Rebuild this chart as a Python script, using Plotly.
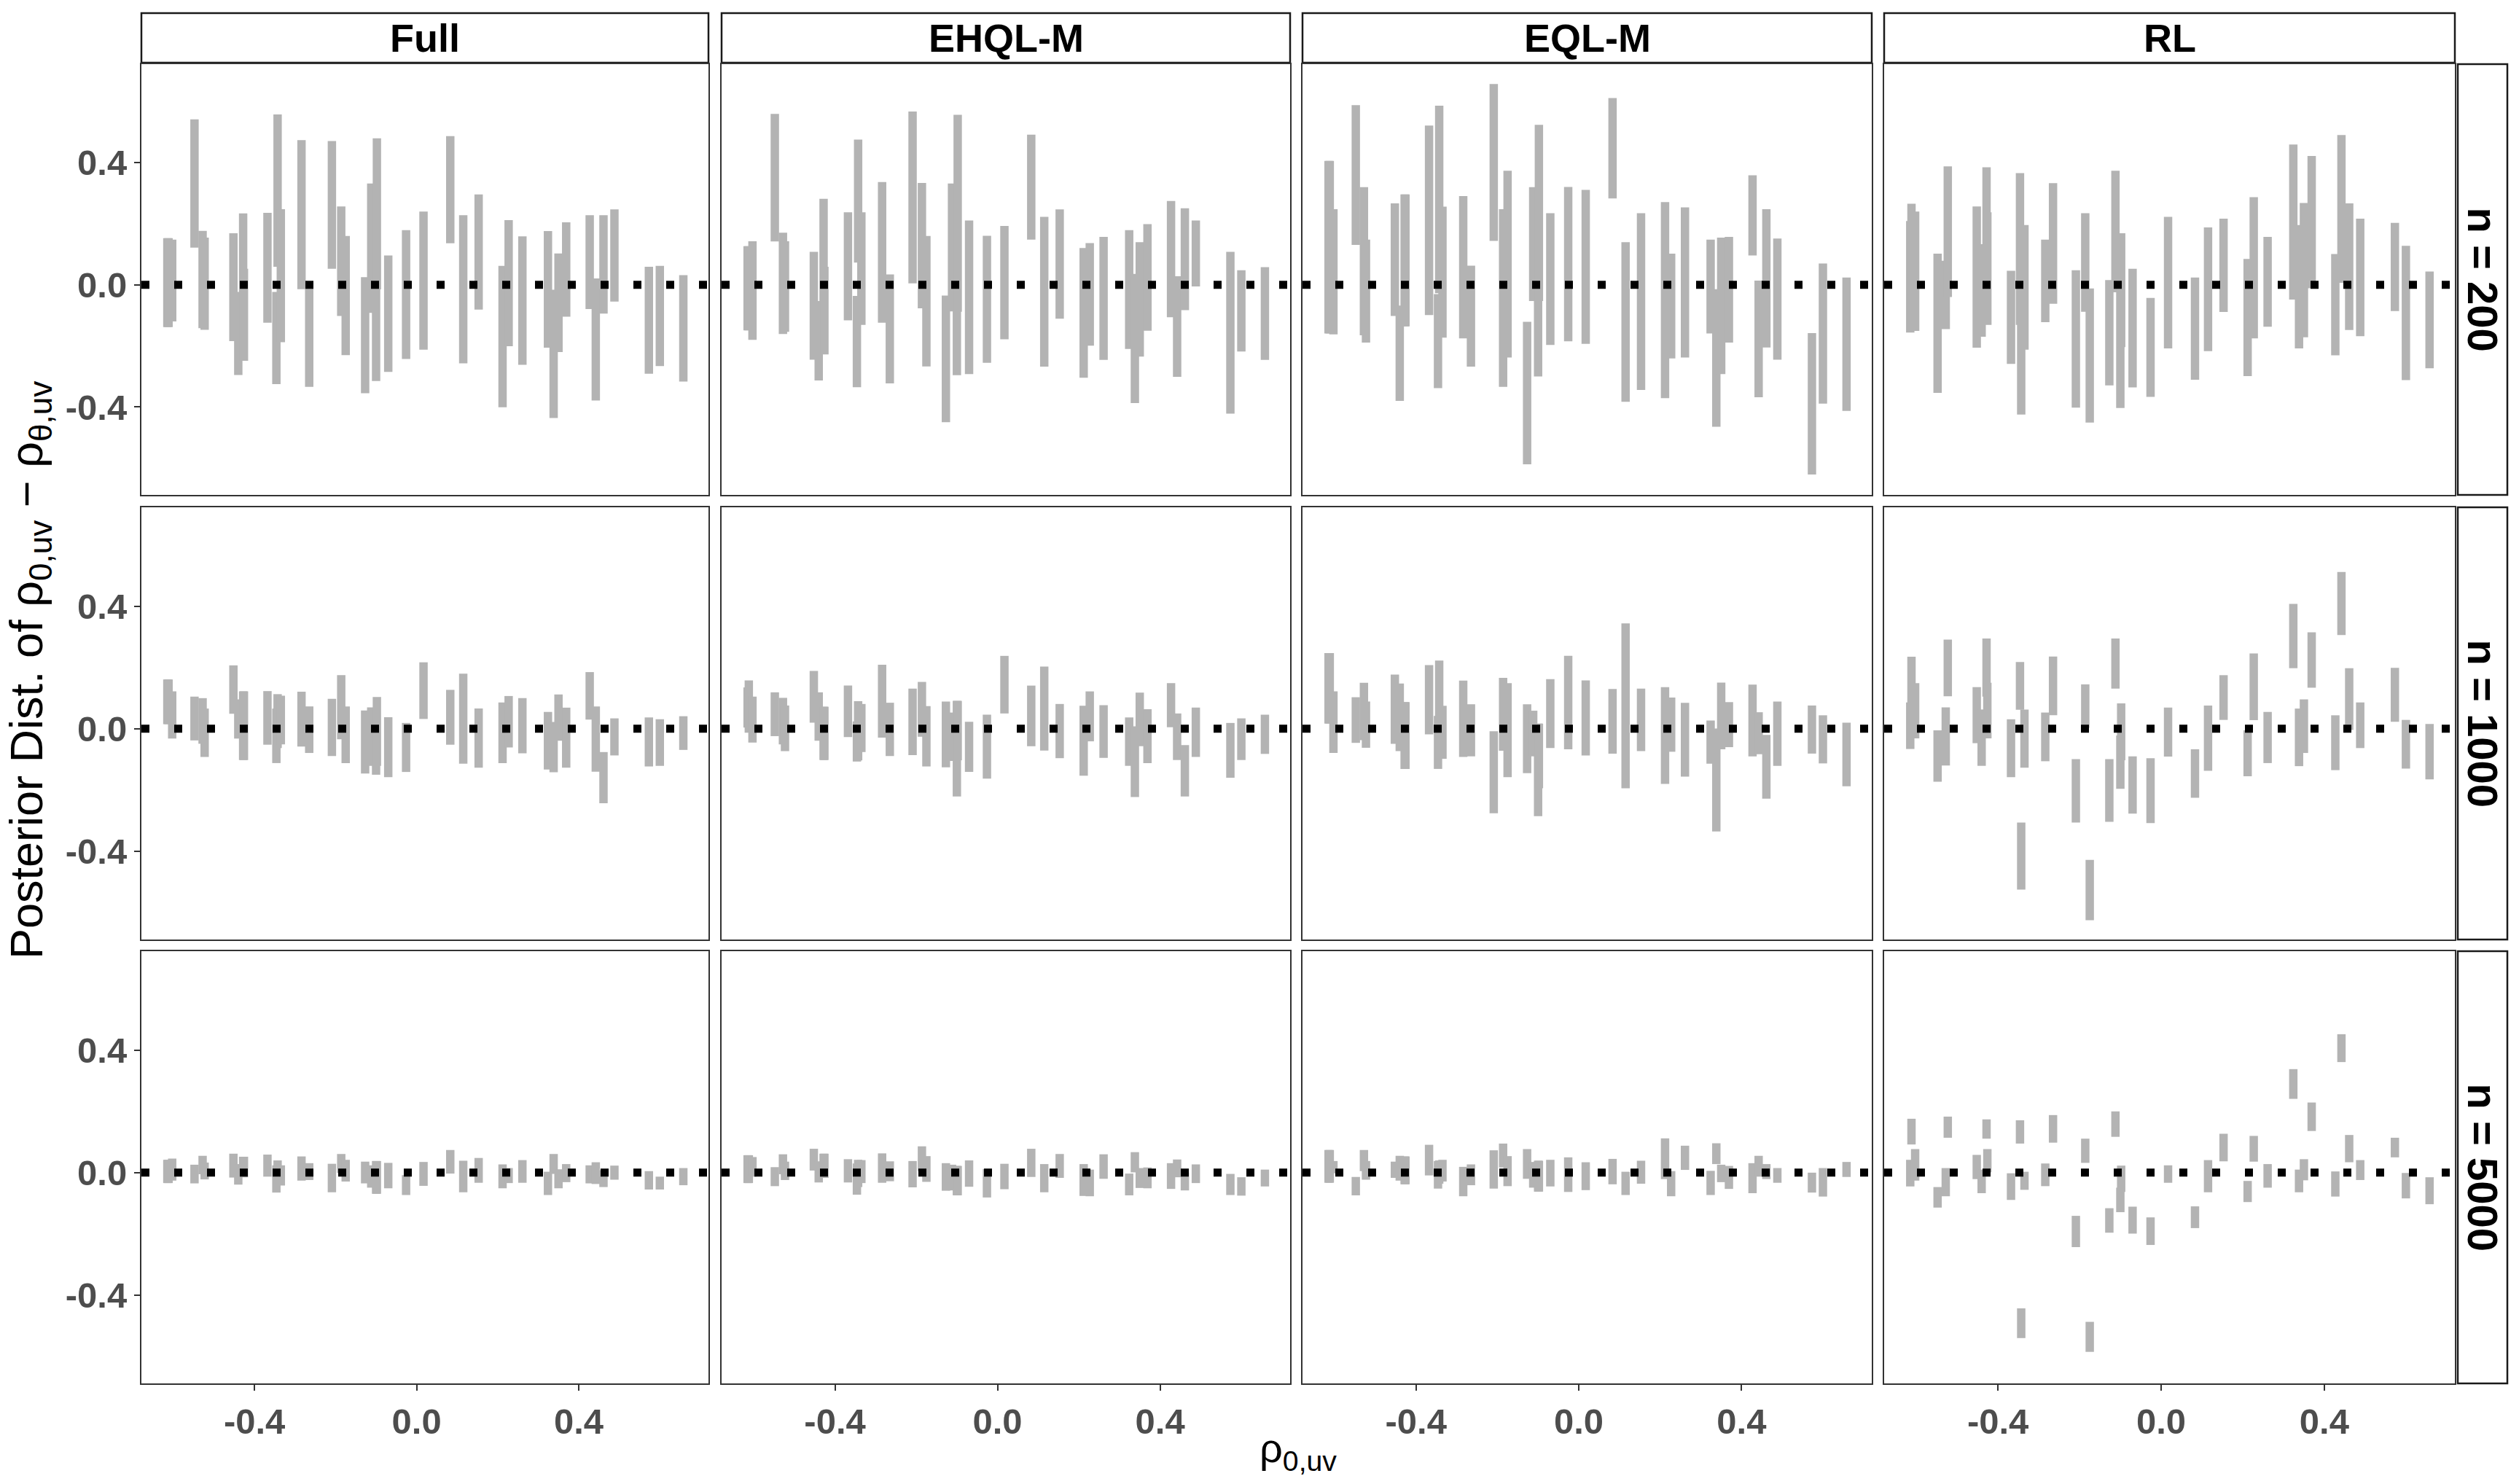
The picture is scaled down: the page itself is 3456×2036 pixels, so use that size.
import plotly.graph_objects as go

# true rho_0,uv values of the simulated data sets (shared by every panel)
rho_true = [-0.615, -0.612, -0.603, -0.548, -0.528, -0.523, -0.452, -0.440, -0.428, -0.426,
            -0.368, -0.346, -0.343, -0.335, -0.284, -0.265, -0.209, -0.186, -0.175, -0.127,
            -0.112, -0.100, -0.098, -0.070, -0.026, 0.017, 0.083, 0.115, 0.153, 0.212,
            0.227, 0.261, 0.324, 0.338, 0.350, 0.369, 0.427, 0.442, 0.461, 0.488,
            0.573, 0.600, 0.658]

methods = ["Full", "EHQL-M", "EQL-M", "RL"]
sizes = ["n = 200", "n = 1000", "n = 5000"]
x_ticks = [-0.4, 0.0, 0.4]
x_ticktext = ["-0.4", "0.0", "0.4"]
y_ticks = [-0.4, 0.0, 0.4]
y_ticktext = ["-0.4", "0.0", "0.4"]

# interval limits of rho_0,uv - rho_theta,uv
full_200_hi = [0.153, 0.153, 0.148, 0.542, 0.177, 0.155, 0.169, -0.023, 0.234, 0.053, 0.236, -0.023, 0.558, 0.248, 0.474, 0.003, 0.471, 0.257, 0.160, 0.025, 0.332, 0.155, 0.480, 0.096, 0.179, 0.240, 0.487, 0.228, 0.296, 0.062, 0.212, 0.159, 0.176, -0.016, 0.103, 0.205, 0.228, 0.021, 0.228, 0.247, 0.059, 0.062, 0.032]
full_200_lo = [-0.138, -0.138, -0.120, 0.122, -0.142, -0.147, -0.184, -0.295, -0.115, -0.249, -0.124, -0.325, 0.059, -0.188, -0.014, -0.334, 0.053, -0.102, -0.230, -0.355, -0.092, -0.315, -0.015, -0.285, -0.243, -0.212, 0.136, -0.257, -0.081, -0.401, -0.201, -0.262, -0.206, -0.436, -0.220, -0.104, -0.079, -0.379, -0.094, -0.055, -0.291, -0.266, -0.317]
ehql_200_hi = [0.127, 0.127, 0.143, 0.560, 0.171, 0.143, 0.108, -0.053, 0.282, 0.059, 0.238, -0.036, 0.476, 0.238, 0.337, 0.034, 0.568, 0.334, 0.160, -0.035, 0.332, 0.196, 0.557, 0.211, 0.161, 0.193, 0.492, 0.223, 0.247, 0.121, 0.137, 0.157, 0.179, 0.036, 0.140, 0.199, 0.275, 0.028, 0.251, 0.211, 0.108, 0.048, 0.058]
ehql_200_lo = [-0.149, -0.149, -0.180, 0.142, -0.161, -0.154, -0.245, -0.313, -0.124, -0.228, -0.116, -0.335, 0.073, -0.131, -0.124, -0.323, 0.005, -0.077, -0.267, -0.450, -0.087, -0.296, -0.088, -0.292, -0.255, -0.178, 0.148, -0.268, -0.111, -0.304, -0.199, -0.246, -0.210, -0.387, -0.235, -0.150, -0.106, -0.301, -0.083, -0.005, -0.422, -0.218, -0.246]
eql_200_hi = [0.406, 0.406, 0.248, 0.589, 0.320, 0.148, 0.267, -0.068, 0.296, 0.296, 0.522, -0.030, 0.587, 0.256, 0.291, 0.063, 0.658, 0.248, 0.374, -0.121, 0.320, 0.118, 0.524, 0.235, 0.321, 0.311, 0.612, 0.140, 0.235, 0.271, 0.102, 0.254, 0.148, -0.014, 0.155, 0.157, 0.359, 0.014, 0.248, 0.152, -0.158, 0.070, 0.024]
eql_200_lo = [-0.159, -0.159, -0.162, 0.131, -0.165, -0.189, -0.102, -0.380, -0.136, -0.136, -0.099, -0.338, -0.027, -0.173, -0.175, -0.268, 0.144, -0.334, -0.238, -0.588, -0.053, -0.300, -0.053, -0.197, -0.185, -0.193, 0.283, -0.383, -0.344, -0.371, -0.241, -0.238, -0.159, -0.465, -0.292, -0.189, 0.096, -0.368, -0.205, -0.245, -0.621, -0.389, -0.413]
rl_200_hi = [0.209, 0.266, 0.240, 0.102, 0.079, 0.388, 0.257, 0.133, 0.385, 0.238, 0.046, 0.366, 0.021, 0.196, 0.148, 0.333, 0.048, 0.235, -0.012, 0.016, 0.374, 0.003, 0.169, 0.053, -0.043, 0.223, 0.024, 0.188, 0.217, 0.085, 0.287, 0.157, 0.460, 0.196, 0.268, 0.422, 0.101, 0.491, 0.267, 0.217, 0.203, 0.128, 0.044]
rl_200_lo = [-0.156, -0.070, -0.151, -0.354, -0.145, -0.040, -0.206, -0.170, -0.043, -0.131, -0.259, -0.131, -0.425, -0.212, -0.122, -0.062, -0.402, -0.088, -0.451, -0.329, -0.024, -0.403, -0.204, -0.336, -0.367, -0.208, -0.311, -0.217, -0.089, -0.299, -0.175, -0.137, -0.048, -0.208, -0.172, -0.011, -0.231, 0.007, -0.148, -0.168, -0.086, -0.312, -0.273]

full_1000_hi = [0.161, 0.161, 0.122, 0.105, 0.100, 0.066, 0.207, 0.096, 0.122, 0.122, 0.123, 0.066, 0.113, 0.108, 0.121, 0.073, 0.098, 0.175, 0.073, 0.060, 0.070, 0.024, 0.104, 0.038, 0.019, 0.217, 0.127, 0.180, 0.066, 0.086, 0.107, 0.100, 0.055, 0.022, 0.112, 0.069, 0.185, 0.073, -0.076, 0.034, 0.037, 0.031, 0.041]
full_1000_lo = [0.015, 0.015, -0.032, -0.038, -0.049, -0.092, 0.049, -0.032, -0.102, -0.102, -0.052, -0.112, -0.063, -0.051, -0.058, -0.079, -0.089, -0.034, -0.112, -0.146, -0.121, -0.150, -0.121, -0.158, -0.141, 0.032, -0.052, -0.114, -0.127, -0.112, -0.061, -0.080, -0.133, -0.142, -0.039, -0.127, 0.030, -0.140, -0.243, -0.087, -0.123, -0.121, -0.069]
ehql_1000_hi = [0.135, 0.158, 0.105, 0.119, 0.101, 0.076, 0.189, 0.119, 0.072, 0.072, 0.141, 0.024, 0.090, 0.081, 0.209, 0.085, 0.131, 0.153, 0.074, 0.089, 0.053, 0.091, 0.091, 0.023, 0.046, 0.238, 0.141, 0.203, 0.081, 0.075, 0.122, 0.077, 0.037, 0.008, 0.118, 0.064, 0.149, 0.050, -0.053, 0.069, 0.019, 0.034, 0.046]
ehql_1000_lo = [0.004, -0.013, -0.045, -0.024, -0.051, -0.073, 0.020, -0.039, -0.102, -0.102, -0.027, -0.107, -0.103, -0.076, -0.029, -0.089, -0.086, -0.026, -0.123, -0.126, -0.105, -0.221, -0.103, -0.141, -0.163, 0.050, -0.057, -0.071, -0.096, -0.153, -0.041, -0.095, -0.121, -0.223, -0.057, -0.112, 0.005, -0.102, -0.221, -0.092, -0.160, -0.102, -0.082]
eql_1000_hi = [0.247, 0.247, 0.122, 0.103, 0.150, 0.089, 0.177, 0.148, 0.087, 0.087, 0.208, 0.042, 0.223, 0.075, 0.157, 0.080, -0.008, 0.166, 0.149, 0.080, 0.059, 0.017, 0.017, 0.162, 0.238, 0.158, 0.130, 0.344, 0.131, 0.136, 0.102, 0.085, 0.027, 0.001, 0.151, 0.087, 0.144, 0.054, -0.020, 0.089, 0.076, 0.044, 0.020]
eql_1000_lo = [0.017, 0.017, -0.079, -0.046, -0.037, -0.062, -0.049, -0.073, -0.131, -0.131, -0.018, -0.131, 0.005, -0.098, -0.092, -0.090, -0.276, -0.072, -0.158, -0.145, -0.090, -0.285, -0.194, -0.063, -0.067, -0.087, -0.081, -0.194, -0.073, -0.180, -0.075, -0.156, -0.114, -0.335, -0.067, -0.060, -0.090, -0.083, -0.228, -0.121, -0.081, -0.113, -0.188]
rl_1000_hi = [0.086, 0.235, 0.149, -0.005, 0.070, 0.291, 0.136, 0.063, 0.295, 0.150, 0.031, 0.218, -0.306, 0.063, 0.053, 0.236, -0.099, 0.145, -0.428, -0.099, 0.295, -0.022, 0.083, -0.090, -0.096, 0.069, -0.067, 0.076, 0.175, -0.005, 0.246, 0.055, 0.408, 0.066, 0.096, 0.315, 0.044, 0.512, 0.198, 0.086, 0.199, 0.029, 0.016]
rl_1000_lo = [-0.066, 0.042, -0.031, -0.173, -0.120, 0.106, -0.047, -0.121, 0.105, -0.031, -0.158, 0.062, -0.525, -0.127, -0.106, 0.044, -0.306, 0.003, -0.625, -0.304, 0.131, -0.196, -0.103, -0.277, -0.308, -0.091, -0.225, -0.137, 0.029, -0.155, 0.028, -0.112, 0.198, -0.122, -0.079, 0.134, -0.135, 0.306, -0.004, -0.063, 0.023, -0.130, -0.165]

full_5000_hi = [0.042, 0.042, 0.046, 0.026, 0.055, 0.033, 0.062, 0.028, 0.052, 0.052, 0.059, 0.024, 0.040, 0.024, 0.053, 0.031, 0.029, 0.061, 0.042, 0.036, 0.024, 0.038, 0.038, 0.032, -0.008, 0.035, 0.074, 0.039, 0.048, 0.027, 0.015, 0.041, 0.003, 0.061, 0.011, 0.028, 0.024, 0.034, 0.008, 0.023, 0.005, -0.013, 0.015]
full_5000_lo = [-0.034, -0.034, -0.026, -0.035, -0.005, -0.022, -0.016, -0.039, -0.015, -0.015, -0.013, -0.065, -0.040, -0.042, -0.026, -0.024, -0.064, -0.001, -0.029, -0.035, -0.049, -0.069, -0.069, -0.051, -0.073, -0.043, -0.003, -0.064, -0.033, -0.051, -0.034, -0.033, -0.073, -0.004, -0.051, -0.031, -0.035, -0.037, -0.047, -0.023, -0.055, -0.055, -0.041]
ehql_5000_hi = [0.057, 0.057, 0.051, 0.018, 0.060, 0.036, 0.078, 0.037, 0.062, 0.062, 0.044, 0.030, 0.042, 0.041, 0.063, 0.037, 0.038, 0.086, 0.054, 0.031, 0.026, 0.022, 0.022, 0.040, 0.012, 0.029, 0.078, 0.028, 0.061, 0.028, 0.010, 0.060, -0.003, 0.067, 0.015, 0.017, 0.031, 0.043, 0.001, 0.027, -0.004, -0.015, 0.010]
ehql_5000_lo = [-0.034, -0.034, -0.013, -0.044, -0.005, -0.024, 0.007, -0.032, -0.017, -0.017, -0.032, -0.072, -0.047, -0.034, -0.033, -0.028, -0.048, 0.005, -0.030, -0.059, -0.058, -0.074, -0.074, -0.046, -0.081, -0.054, -0.014, -0.064, -0.017, -0.076, -0.077, -0.020, -0.074, 0.001, -0.050, -0.051, -0.053, -0.015, -0.058, -0.034, -0.073, -0.075, -0.045]
eql_5000_hi = [0.074, 0.074, 0.038, -0.014, 0.074, 0.038, 0.036, 0.055, 0.053, 0.053, 0.091, 0.038, 0.040, 0.042, 0.019, 0.027, 0.073, 0.095, 0.054, 0.077, 0.035, 0.039, 0.039, 0.042, 0.050, 0.034, 0.045, 0.003, 0.039, 0.112, 0.005, 0.088, 0.006, 0.096, 0.026, 0.022, 0.031, 0.055, 0.028, 0.015, 0.000, 0.015, 0.035]
eql_5000_lo = [-0.033, -0.033, -0.002, -0.074, 0.005, -0.023, -0.017, -0.026, -0.038, -0.038, -0.009, -0.052, -0.036, -0.029, -0.077, -0.041, -0.052, 0.017, -0.044, -0.020, -0.049, -0.062, -0.062, -0.045, -0.063, -0.057, -0.038, -0.073, -0.036, -0.021, -0.077, 0.009, -0.073, 0.028, -0.031, -0.053, -0.067, -0.013, -0.021, -0.033, -0.065, -0.078, -0.014]
rl_5000_hi = [0.042, 0.176, 0.077, -0.047, 0.015, 0.183, 0.058, 0.010, 0.174, 0.077, -0.002, 0.171, -0.443, 0.003, 0.030, 0.188, -0.141, 0.111, -0.487, -0.116, 0.200, -0.049, 0.023, -0.111, -0.146, 0.024, -0.110, 0.041, 0.127, -0.027, 0.120, 0.028, 0.338, 0.010, 0.044, 0.229, 0.004, 0.452, 0.123, 0.041, 0.114, -0.001, -0.015]
rl_5000_lo = [-0.045, 0.092, -0.026, -0.114, -0.077, 0.114, -0.021, -0.067, 0.111, 0.001, -0.089, 0.095, -0.540, -0.056, -0.044, 0.098, -0.243, 0.032, -0.585, -0.196, 0.117, -0.129, -0.063, -0.199, -0.236, -0.033, -0.181, -0.064, 0.037, -0.096, 0.036, -0.049, 0.241, -0.064, -0.025, 0.136, -0.078, 0.361, 0.034, -0.024, 0.050, -0.084, -0.103]

panels = {
    (0, 0): (full_200_lo, full_200_hi), (0, 1): (ehql_200_lo, ehql_200_hi),
    (0, 2): (eql_200_lo, eql_200_hi), (0, 3): (rl_200_lo, rl_200_hi),
    (1, 0): (full_1000_lo, full_1000_hi), (1, 1): (ehql_1000_lo, ehql_1000_hi),
    (1, 2): (eql_1000_lo, eql_1000_hi), (1, 3): (rl_1000_lo, rl_1000_hi),
    (2, 0): (full_5000_lo, full_5000_hi), (2, 1): (ehql_5000_lo, ehql_5000_hi),
    (2, 2): (eql_5000_lo, eql_5000_hi), (2, 3): (rl_5000_lo, rl_5000_hi),
}

W, H = 3456, 2036
col_px = [(194, 972), (990, 1770), (1787, 2568), (2585, 3368)]
row_px = [(88, 679), (696, 1289), (1305, 1898)]
strip_top = (18, 86)
strip_right = (3372, 3440)
FONT = "Liberation Sans"
x_range = [-0.679, 0.720]
y_range = [-0.688, 0.723]

fig = go.Figure()
shapes = []
annotations = []

for r in range(3):
    for c in range(4):
        k = r * 4 + c + 1
        xn = "x" if k == 1 else f"x{k}"
        yn = "y" if k == 1 else f"y{k}"
        lo, hi = panels[(r, c)]
        xs, ys = [], []
        for x0, a, b in zip(rho_true, lo, hi):
            xs += [x0, x0, None]
            ys += [a, b, None]
        fig.add_trace(go.Scatter(x=xs, y=ys, mode="lines", xaxis=xn, yaxis=yn,
                                 line=dict(color="#B3B3B3", width=11.5),
                                 hoverinfo="skip", showlegend=False))
        # dotted reference line at zero
        shapes.append(dict(type="line", xref=f"{xn} domain", yref=yn, x0=0, x1=1, y0=0, y1=0,
                           line=dict(color="black", width=11, dash="11px,34px")))

        l, rr = col_px[c]
        t, b = row_px[r]
        ax_common = dict(showline=True, mirror=True, linecolor="#333333", linewidth=2,
                         showgrid=False, zeroline=False, ticklen=8, tickwidth=2,
                         tickcolor="#333333",
                         tickfont=dict(family=FONT, size=49, color="#4D4D4D", weight="bold"))
        fig.layout[f"xaxis{'' if k == 1 else k}"] = dict(
            ax_common, domain=[l / W, rr / W], range=x_range, anchor=yn,
            tickvals=x_ticks, ticktext=x_ticktext,
            ticks="outside" if r == 2 else "", showticklabels=(r == 2))
        fig.layout[f"yaxis{'' if k == 1 else k}"] = dict(
            ax_common, domain=[1 - b / H, 1 - t / H], range=y_range, anchor=xn,
            tickvals=y_ticks, ticktext=y_ticktext,
            ticks="outside" if c == 0 else "", showticklabels=(c == 0))

# facet strips
for c, name in enumerate(methods):
    l, rr = col_px[c]
    shapes.append(dict(type="rect", xref="paper", yref="paper", x0=l / W, x1=rr / W,
                       y0=1 - strip_top[1] / H, y1=1 - strip_top[0] / H,
                       line=dict(color="#1A1A1A", width=2.5), fillcolor="white", layer="below"))
    annotations.append(dict(text=name, xref="paper", yref="paper", x=(l + rr) / 2 / W,
                            y=1 - (strip_top[0] + strip_top[1]) / 2 / H, showarrow=False,
                            xanchor="center", yanchor="middle",
                            font=dict(family=FONT, size=54, color="black", weight="bold")))
for r, name in enumerate(sizes):
    t, b = row_px[r]
    shapes.append(dict(type="rect", xref="paper", yref="paper",
                       x0=strip_right[0] / W, x1=strip_right[1] / W,
                       y0=1 - b / H, y1=1 - t / H,
                       line=dict(color="#1A1A1A", width=2.5), fillcolor="white", layer="below"))
    annotations.append(dict(text=name, xref="paper", yref="paper",
                            x=(strip_right[0] + strip_right[1]) / 2 / W,
                            y=1 - (t + b) / 2 / H, showarrow=False, textangle=90,
                            xanchor="center", yanchor="middle",
                            font=dict(family=FONT, size=58, color="black", weight="bold")))

# axis titles
annotations.append(dict(text="Posterior Dist. of ρ<sub>0,uv</sub> − ρ<sub>θ,uv</sub>",
                        xref="paper", yref="paper", x=40 / W, y=1 - 920 / H,
                        showarrow=False, textangle=-90, xanchor="center", yanchor="middle",
                        font=dict(family=FONT, size=63, color="black")))
annotations.append(dict(text="ρ<sub>0,uv</sub>", xref="paper", yref="paper",
                        x=1781 / W, y=1 - 1990 / H, showarrow=False,
                        xanchor="center", yanchor="middle",
                        font=dict(family=FONT, size=56, color="black")))

fig.update_layout(width=W, height=H, margin=dict(l=0, r=0, t=0, b=0),
                  paper_bgcolor="white", plot_bgcolor="white",
                  shapes=shapes, annotations=annotations)

fig.write_html("out.html", config={"displayModeBar": False},
               post_script="document.body.style.margin='0px';document.body.style.overflow='hidden';")
